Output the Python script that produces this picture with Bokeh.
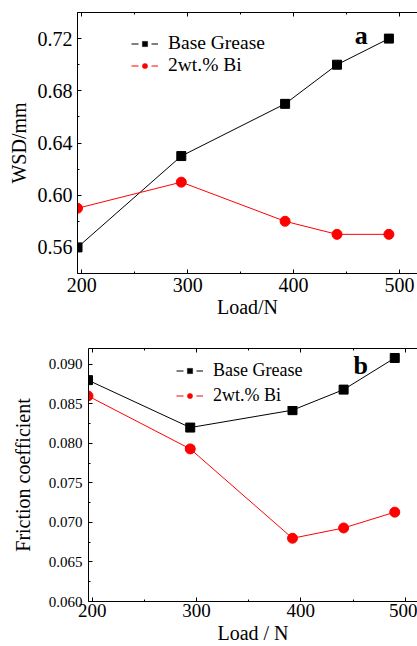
from bokeh.plotting import figure
from bokeh.models import (Range1d, LinearAxis, SingleIntervalTicker, NumeralTickFormatter,
                          Legend, LegendItem, Label)
from bokeh.embed import file_html
from bokeh.resources import INLINE

loads = [196, 294, 392, 441, 490]
wsd_base = [0.56, 0.63, 0.67, 0.70, 0.72]
wsd_bi = [0.59, 0.61, 0.58, 0.57, 0.57]
fc_base = [0.0880, 0.0820, 0.0842, 0.0868, 0.0908]
fc_bi = [0.0860, 0.0793, 0.0680, 0.0693, 0.0713]
series_names = ["Base Grease", "2wt.% Bi"]

FONT = "Liberation Serif"
NAN = [float("nan")]


def style_axis(ax, ticker, fmt, size, standoff, labels=True):
    ax.ticker = ticker
    ax.formatter = fmt
    ax.axis_line_color = "black"
    ax.axis_line_width = 1
    ax.major_tick_in = 4
    ax.major_tick_out = 0
    ax.minor_tick_in = 2
    ax.minor_tick_out = 0
    ax.major_tick_line_color = "black"
    ax.minor_tick_line_color = "black"
    ax.major_label_text_font = FONT
    ax.major_label_text_font_size = size
    ax.major_label_text_color = "black" if labels else None
    ax.major_label_standoff = standoff
    ax.axis_label_text_font = FONT
    ax.axis_label_text_font_style = "normal"
    ax.axis_label_text_color = "black"


def make_panel(width, height, xr, yr, borders, ybase, ybi, xint, yint, yfmt,
               xsize, ysize, xlabel, ylabel, xstand, xlabstand, ystand, ylabstand,
               leg_loc, leg_font, leg_lh, leg_spacing, leg_pad, tag, tag_xy, tag_size):
    p = figure(width=width, height=height, output_backend="svg", toolbar_location=None,
               x_range=Range1d(*xr), y_range=Range1d(*yr),
               x_axis_location=None, y_axis_location=None,
               min_border_left=borders[0], min_border_top=borders[1],
               min_border_bottom=borders[2], min_border_right=0)
    p.outline_line_color = None
    p.grid.visible = False
    p.background_fill_color = "white"
    p.border_fill_color = "white"

    xb = LinearAxis(axis_label=xlabel)
    style_axis(xb, SingleIntervalTicker(interval=xint, num_minor_ticks=2),
               NumeralTickFormatter(format="0"), xsize, xstand)
    xb.axis_label_text_font_size = "20px"
    xb.axis_label_standoff = xlabstand
    p.add_layout(xb, "below")

    xt = LinearAxis()
    style_axis(xt, SingleIntervalTicker(interval=xint, num_minor_ticks=2),
               NumeralTickFormatter(format="0"), "1px", 0, labels=False)
    xt.major_label_text_font_size = "0px"
    p.add_layout(xt, "above")

    yl = LinearAxis(axis_label=ylabel)
    style_axis(yl, SingleIntervalTicker(interval=yint, num_minor_ticks=2),
               NumeralTickFormatter(format=yfmt), ysize, ystand)
    yl.axis_label_text_font_size = "20px"
    yl.axis_label_standoff = ylabstand
    p.add_layout(yl, "left")

    p.line(loads, ybase, line_color="black", line_width=1)
    p.scatter(loads, ybase, marker="square", size=9, fill_color="black", line_color="black")
    p.line(loads, ybi, line_color="#ff0000", line_width=1)
    p.scatter(loads, ybi, marker="circle", size=10, fill_color="#ff0000", line_color="#ff0000")

    # legend-only key glyphs (NaN data, nothing drawn in the plot) for the "-■-" key style
    kl1 = p.line(NAN, NAN, line_color="black", line_width=1, line_dash="7 13")
    km1 = p.scatter(NAN, NAN, marker="square", fill_color="black", line_color="black", line_width=0.5)
    kl2 = p.line(NAN, NAN, line_color="#ff0000", line_width=1, line_dash="7 13")
    km2 = p.scatter(NAN, NAN, marker="circle", fill_color="#ff0000", line_color="#ff0000", line_width=0.5)

    leg = Legend(items=[LegendItem(label=series_names[0], renderers=[kl1, km1]),
                        LegendItem(label=series_names[1], renderers=[kl2, km2])],
                 location=leg_loc)
    leg.border_line_color = None
    leg.background_fill_color = "white"
    leg.background_fill_alpha = 1.0
    leg.label_text_font = FONT
    leg.label_text_font_size = leg_font
    leg.label_text_color = "black"
    leg.label_height = leg_lh
    leg.glyph_width = 27
    leg.glyph_height = 13
    leg.label_standoff = 10
    leg.padding = leg_pad
    leg.margin = 0
    leg.spacing = leg_spacing
    p.add_layout(leg, "center")

    lab = Label(x=tag_xy[0], y=tag_xy[1], text=tag, text_font=FONT, text_font_style="bold",
                text_font_size=tag_size, text_align="center", text_baseline="alphabetic",
                text_color="black")
    p.add_layout(lab)
    return p


p1 = make_panel(417, 320, (196, 517), (0.54, 0.74), (77, 12, 47), wsd_base, wsd_bi,
                100, 0.04, "0.00", "20px", "20px", "Load/N", "WSD/mm",
                4, 1, 5, 5, (54, 197), "19.5px", 22, 0, 4, "a", (464, 0.7221), "26px")
p2 = make_panel(417, 326, (196.5, 511.8), (0.060, 0.092), (88, 28, 43), fc_base, fc_bi,
                100, 0.005, "0.000", "19px", "15px", "Load / N", "Friction coefficient",
                2, 2, 6, 12, (88, 195), "18px", 21, 4, 4, "b", (457.4, 0.0899), "26px")

open("out.html", "w").write(file_html([p1, p2], INLINE))
